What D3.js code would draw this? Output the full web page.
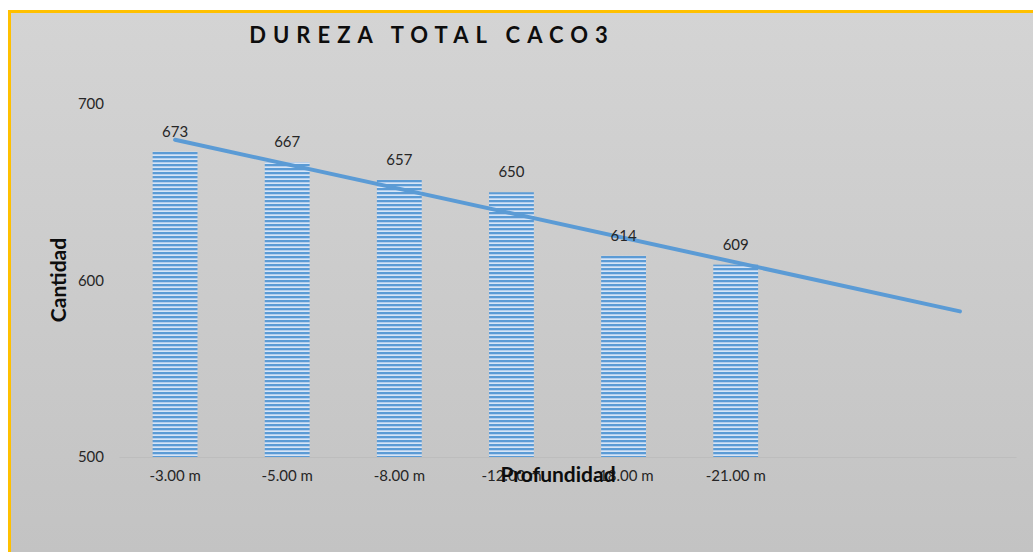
<!DOCTYPE html>
<meta charset="utf-8">
<script src="https://d3js.org/d3.v7.min.js"></script>
<style>
  body { margin: 0; background: #fff; }
  text { font-family: Lato, "Open Sans", sans-serif; }
</style>
<div id="chart"></div>
<script>
  // data
  var depths = ["-3.00 m", "-5.00 m", "-8.00 m", "-12.00 m", "-18.00 m", "-21.00 m"];
  var hardness = [673, 667, 657, 650, 614, 609];
  var yTicks = [500, 600, 700];
  var forecastSlots = 2; // trendline runs two periods forward

  var W = 1033, H = 552;
  var margin = {top: 104, right: 17, bottom: 95, left: 119};

  var svg = d3.select("#chart").append("svg")
    .attr("width", W)
    .attr("height", H);

  var defs = svg.append("defs");
  var grad = defs.append("linearGradient")
    .attr("id", "bg").attr("x1", 0).attr("y1", 0).attr("x2", 0).attr("y2", 1);
  grad.append("stop").attr("offset", "0%").attr("stop-color", "#d4d4d4");
  grad.append("stop").attr("offset", "100%").attr("stop-color", "#c2c2c2");

  var pat = defs.append("pattern")
    .attr("id", "stripes")
    .attr("patternUnits", "userSpaceOnUse")
    .attr("width", 8).attr("height", 4);
  pat.append("rect").attr("width", 8).attr("height", 4).attr("fill", "#d6e5f6");
  pat.append("rect").attr("y", 0).attr("width", 8).attr("height", 2).attr("fill", "#5b9bd5");
  pat.append("rect").attr("y", 2).attr("width", 8).attr("height", 0.6).attr("fill", "#9cc0e8");

  // chart area with gold border
  svg.append("rect")
    .attr("x", 9.5).attr("y", 11.5)
    .attr("width", W + 20).attr("height", H + 20)
    .attr("fill", "url(#bg)")
    .attr("stroke", "#ffc000")
    .attr("stroke-width", 3);

  var nSlots = depths.length + forecastSlots;
  var x = d3.scaleBand()
    .domain(d3.range(nSlots))
    .range([margin.left, W - margin.right])
    .paddingInner(0.6)
    .paddingOuter(0.3);

  var y = d3.scaleLinear()
    .domain([500, 700])
    .range([H - margin.bottom, margin.top]);

  var g = svg.append("g");

  // bars
  g.selectAll("rect.bar")
    .data(hardness)
    .enter()
    .append("rect")
    .attr("class", "bar")
    .attr("x", (d, i) => x(i))
    .attr("y", d => y(d))
    .attr("width", x.bandwidth())
    .attr("height", d => y(500) - y(d))
    .attr("fill", "url(#stripes)");

  // x axis
  var xAxis = g.append("g")
    .attr("transform", "translate(0," + y(500) + ")")
    .call(d3.axisBottom(x).tickSize(0).tickPadding(13).tickFormat(i => depths[i] || ""));
  xAxis.select(".domain").attr("stroke", "#bdbdbd").attr("stroke-width", 1);
  xAxis.selectAll("text").style("font-size", "15px").attr("fill", "#262626");

  // y axis labels (no line)
  var yAxis = g.append("g")
    .attr("transform", "translate(" + (margin.left - 15) + ",0)")
    .call(d3.axisLeft(y).tickValues(yTicks).tickSize(0).tickPadding(0));
  yAxis.select(".domain").remove();
  yAxis.selectAll("text").style("font-size", "15px").attr("fill", "#262626");

  // linear trendline (least squares over the measured points, extended forward)
  var xs = hardness.map((d, i) => i + 1);
  var mx = d3.mean(xs), my = d3.mean(hardness);
  var slope = d3.sum(xs, (v, i) => (v - mx) * (hardness[i] - my)) / d3.sum(xs, v => (v - mx) * (v - mx));
  var icpt = my - slope * mx;
  var trend = [1, nSlots].map(v => ({i: v - 1, v: icpt + slope * v}));
  g.append("path")
    .datum(trend)
    .attr("fill", "none")
    .attr("stroke", "#5b9bd5")
    .attr("stroke-width", 4)
    .attr("stroke-linecap", "round")
    .attr("d", d3.line().x(d => x(d.i) + x.bandwidth() / 2).y(d => y(d.v)));

  // value labels
  g.selectAll("text.label")
    .data(hardness)
    .enter()
    .append("text")
    .attr("class", "label")
    .attr("x", (d, i) => x(i) + x.bandwidth() / 2)
    .attr("y", d => y(d) - 15)
    .attr("text-anchor", "middle")
    .style("font-size", "15px")
    .attr("fill", "#262626")
    .text(d => d);

  // titles
  svg.append("text")
    .attr("x", 432).attr("y", 43)
    .attr("text-anchor", "middle")
    .style("font-size", "22px")
    .style("font-weight", "bold")
    .style("letter-spacing", "7px")
    .attr("fill", "#0d0d0d")
    .text("DUREZA TOTAL CACO3");

  svg.append("text")
    .attr("transform", "translate(66," + 280 + ") rotate(-90)")
    .attr("text-anchor", "middle")
    .style("font-size", "21px")
    .style("font-weight", "bold")
    .attr("fill", "#0d0d0d")
    .text("Cantidad");

  svg.append("text")
    .attr("x", 558).attr("y", 482)
    .attr("text-anchor", "middle")
    .style("font-size", "21px")
    .style("font-weight", "bold")
    .attr("fill", "#0d0d0d")
    .text("Profundidad");
</script>
